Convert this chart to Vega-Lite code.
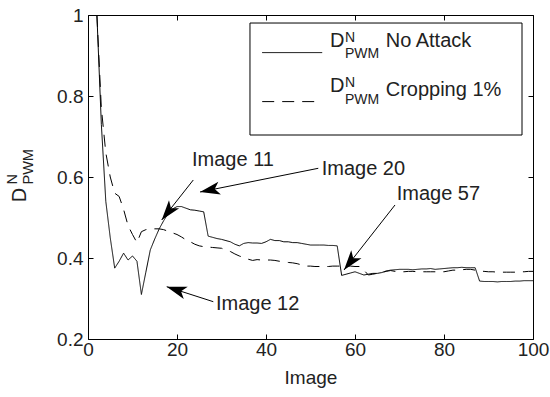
{
  "$schema": "https://vega.github.io/schema/vega-lite/v6.json",
  "width": 445,
  "height": 324,
  "autosize": {"type": "none"},
  "padding": {"left": 88, "top": 15, "right": 17, "bottom": 58},
  "background": "white",
  "config": {
    "view": {"stroke": "black", "strokeWidth": 1},
    "font": "Liberation Sans",
    "text": {"font": "Liberation Sans", "color": "#222"},
    "axis": {
      "domainColor": "black",
      "tickColor": "black",
      "labelColor": "#222",
      "titleColor": "#222",
      "grid": false,
      "labelFont": "Liberation Sans",
      "titleFont": "Liberation Sans",
      "labelFontSize": 19,
      "titleFontSize": 19,
      "titleFontWeight": "normal",
      "tickSize": -5,
      "tickWidth": 1
    }
  },
  "datasets": {
    "series": [
      {"image": 2, "value": 1.0, "series": "No Attack"},
      {"image": 3, "value": 0.73, "series": "No Attack"},
      {"image": 4, "value": 0.54, "series": "No Attack"},
      {"image": 5, "value": 0.45, "series": "No Attack"},
      {"image": 6, "value": 0.375, "series": "No Attack"},
      {"image": 7, "value": 0.392, "series": "No Attack"},
      {"image": 8, "value": 0.412, "series": "No Attack"},
      {"image": 9, "value": 0.395, "series": "No Attack"},
      {"image": 10, "value": 0.405, "series": "No Attack"},
      {"image": 11, "value": 0.392, "series": "No Attack"},
      {"image": 12, "value": 0.31, "series": "No Attack"},
      {"image": 13, "value": 0.365, "series": "No Attack"},
      {"image": 14, "value": 0.42, "series": "No Attack"},
      {"image": 15, "value": 0.447, "series": "No Attack"},
      {"image": 16, "value": 0.472, "series": "No Attack"},
      {"image": 17, "value": 0.492, "series": "No Attack"},
      {"image": 18, "value": 0.51, "series": "No Attack"},
      {"image": 19, "value": 0.521, "series": "No Attack"},
      {"image": 20, "value": 0.527, "series": "No Attack"},
      {"image": 21, "value": 0.527, "series": "No Attack"},
      {"image": 22, "value": 0.523, "series": "No Attack"},
      {"image": 23, "value": 0.519, "series": "No Attack"},
      {"image": 24, "value": 0.518, "series": "No Attack"},
      {"image": 25, "value": 0.516, "series": "No Attack"},
      {"image": 26, "value": 0.514, "series": "No Attack"},
      {"image": 27, "value": 0.454, "series": "No Attack"},
      {"image": 28, "value": 0.451, "series": "No Attack"},
      {"image": 29, "value": 0.448, "series": "No Attack"},
      {"image": 30, "value": 0.446, "series": "No Attack"},
      {"image": 31, "value": 0.443, "series": "No Attack"},
      {"image": 32, "value": 0.44, "series": "No Attack"},
      {"image": 33, "value": 0.434, "series": "No Attack"},
      {"image": 34, "value": 0.43, "series": "No Attack"},
      {"image": 35, "value": 0.436, "series": "No Attack"},
      {"image": 36, "value": 0.438, "series": "No Attack"},
      {"image": 37, "value": 0.437, "series": "No Attack"},
      {"image": 38, "value": 0.437, "series": "No Attack"},
      {"image": 39, "value": 0.436, "series": "No Attack"},
      {"image": 40, "value": 0.44, "series": "No Attack"},
      {"image": 41, "value": 0.446, "series": "No Attack"},
      {"image": 42, "value": 0.443, "series": "No Attack"},
      {"image": 43, "value": 0.443, "series": "No Attack"},
      {"image": 44, "value": 0.44, "series": "No Attack"},
      {"image": 45, "value": 0.44, "series": "No Attack"},
      {"image": 46, "value": 0.438, "series": "No Attack"},
      {"image": 47, "value": 0.438, "series": "No Attack"},
      {"image": 48, "value": 0.436, "series": "No Attack"},
      {"image": 49, "value": 0.434, "series": "No Attack"},
      {"image": 50, "value": 0.432, "series": "No Attack"},
      {"image": 51, "value": 0.432, "series": "No Attack"},
      {"image": 52, "value": 0.432, "series": "No Attack"},
      {"image": 53, "value": 0.432, "series": "No Attack"},
      {"image": 54, "value": 0.431, "series": "No Attack"},
      {"image": 55, "value": 0.431, "series": "No Attack"},
      {"image": 56, "value": 0.43, "series": "No Attack"},
      {"image": 57, "value": 0.357, "series": "No Attack"},
      {"image": 58, "value": 0.36, "series": "No Attack"},
      {"image": 59, "value": 0.363, "series": "No Attack"},
      {"image": 60, "value": 0.366, "series": "No Attack"},
      {"image": 61, "value": 0.362, "series": "No Attack"},
      {"image": 62, "value": 0.358, "series": "No Attack"},
      {"image": 63, "value": 0.36, "series": "No Attack"},
      {"image": 64, "value": 0.362, "series": "No Attack"},
      {"image": 65, "value": 0.362, "series": "No Attack"},
      {"image": 66, "value": 0.364, "series": "No Attack"},
      {"image": 67, "value": 0.368, "series": "No Attack"},
      {"image": 68, "value": 0.37, "series": "No Attack"},
      {"image": 69, "value": 0.371, "series": "No Attack"},
      {"image": 70, "value": 0.372, "series": "No Attack"},
      {"image": 71, "value": 0.372, "series": "No Attack"},
      {"image": 72, "value": 0.372, "series": "No Attack"},
      {"image": 73, "value": 0.371, "series": "No Attack"},
      {"image": 74, "value": 0.372, "series": "No Attack"},
      {"image": 75, "value": 0.373, "series": "No Attack"},
      {"image": 76, "value": 0.373, "series": "No Attack"},
      {"image": 77, "value": 0.374, "series": "No Attack"},
      {"image": 78, "value": 0.372, "series": "No Attack"},
      {"image": 79, "value": 0.373, "series": "No Attack"},
      {"image": 80, "value": 0.374, "series": "No Attack"},
      {"image": 81, "value": 0.375, "series": "No Attack"},
      {"image": 82, "value": 0.376, "series": "No Attack"},
      {"image": 83, "value": 0.376, "series": "No Attack"},
      {"image": 84, "value": 0.377, "series": "No Attack"},
      {"image": 85, "value": 0.376, "series": "No Attack"},
      {"image": 86, "value": 0.376, "series": "No Attack"},
      {"image": 87, "value": 0.376, "series": "No Attack"},
      {"image": 88, "value": 0.343, "series": "No Attack"},
      {"image": 89, "value": 0.342, "series": "No Attack"},
      {"image": 90, "value": 0.342, "series": "No Attack"},
      {"image": 91, "value": 0.342, "series": "No Attack"},
      {"image": 92, "value": 0.341, "series": "No Attack"},
      {"image": 93, "value": 0.342, "series": "No Attack"},
      {"image": 94, "value": 0.342, "series": "No Attack"},
      {"image": 95, "value": 0.342, "series": "No Attack"},
      {"image": 96, "value": 0.343, "series": "No Attack"},
      {"image": 97, "value": 0.343, "series": "No Attack"},
      {"image": 98, "value": 0.344, "series": "No Attack"},
      {"image": 99, "value": 0.344, "series": "No Attack"},
      {"image": 100, "value": 0.344, "series": "No Attack"},
      {"image": 2, "value": 1.0, "series": "Cropping 1%"},
      {"image": 3, "value": 0.77, "series": "Cropping 1%"},
      {"image": 4, "value": 0.66, "series": "Cropping 1%"},
      {"image": 5, "value": 0.6, "series": "Cropping 1%"},
      {"image": 6, "value": 0.56, "series": "Cropping 1%"},
      {"image": 7, "value": 0.552, "series": "Cropping 1%"},
      {"image": 8, "value": 0.52, "series": "Cropping 1%"},
      {"image": 9, "value": 0.48, "series": "Cropping 1%"},
      {"image": 10, "value": 0.458, "series": "Cropping 1%"},
      {"image": 11, "value": 0.438, "series": "Cropping 1%"},
      {"image": 12, "value": 0.465, "series": "Cropping 1%"},
      {"image": 13, "value": 0.47, "series": "Cropping 1%"},
      {"image": 14, "value": 0.472, "series": "Cropping 1%"},
      {"image": 15, "value": 0.472, "series": "Cropping 1%"},
      {"image": 16, "value": 0.472, "series": "Cropping 1%"},
      {"image": 17, "value": 0.47, "series": "Cropping 1%"},
      {"image": 18, "value": 0.466, "series": "Cropping 1%"},
      {"image": 19, "value": 0.462, "series": "Cropping 1%"},
      {"image": 20, "value": 0.458, "series": "Cropping 1%"},
      {"image": 21, "value": 0.452, "series": "Cropping 1%"},
      {"image": 22, "value": 0.445, "series": "Cropping 1%"},
      {"image": 23, "value": 0.44, "series": "Cropping 1%"},
      {"image": 24, "value": 0.434, "series": "Cropping 1%"},
      {"image": 25, "value": 0.43, "series": "Cropping 1%"},
      {"image": 26, "value": 0.428, "series": "Cropping 1%"},
      {"image": 27, "value": 0.427, "series": "Cropping 1%"},
      {"image": 28, "value": 0.426, "series": "Cropping 1%"},
      {"image": 29, "value": 0.425, "series": "Cropping 1%"},
      {"image": 30, "value": 0.424, "series": "Cropping 1%"},
      {"image": 31, "value": 0.42, "series": "Cropping 1%"},
      {"image": 32, "value": 0.416, "series": "Cropping 1%"},
      {"image": 33, "value": 0.41, "series": "Cropping 1%"},
      {"image": 34, "value": 0.405, "series": "Cropping 1%"},
      {"image": 35, "value": 0.401, "series": "Cropping 1%"},
      {"image": 36, "value": 0.397, "series": "Cropping 1%"},
      {"image": 37, "value": 0.394, "series": "Cropping 1%"},
      {"image": 38, "value": 0.396, "series": "Cropping 1%"},
      {"image": 39, "value": 0.395, "series": "Cropping 1%"},
      {"image": 40, "value": 0.395, "series": "Cropping 1%"},
      {"image": 41, "value": 0.395, "series": "Cropping 1%"},
      {"image": 42, "value": 0.394, "series": "Cropping 1%"},
      {"image": 43, "value": 0.392, "series": "Cropping 1%"},
      {"image": 44, "value": 0.391, "series": "Cropping 1%"},
      {"image": 45, "value": 0.389, "series": "Cropping 1%"},
      {"image": 46, "value": 0.388, "series": "Cropping 1%"},
      {"image": 47, "value": 0.386, "series": "Cropping 1%"},
      {"image": 48, "value": 0.383, "series": "Cropping 1%"},
      {"image": 49, "value": 0.38, "series": "Cropping 1%"},
      {"image": 50, "value": 0.38, "series": "Cropping 1%"},
      {"image": 51, "value": 0.379, "series": "Cropping 1%"},
      {"image": 52, "value": 0.379, "series": "Cropping 1%"},
      {"image": 53, "value": 0.379, "series": "Cropping 1%"},
      {"image": 54, "value": 0.379, "series": "Cropping 1%"},
      {"image": 55, "value": 0.38, "series": "Cropping 1%"},
      {"image": 56, "value": 0.38, "series": "Cropping 1%"},
      {"image": 57, "value": 0.38, "series": "Cropping 1%"},
      {"image": 58, "value": 0.38, "series": "Cropping 1%"},
      {"image": 59, "value": 0.38, "series": "Cropping 1%"},
      {"image": 60, "value": 0.379, "series": "Cropping 1%"},
      {"image": 61, "value": 0.379, "series": "Cropping 1%"},
      {"image": 62, "value": 0.37, "series": "Cropping 1%"},
      {"image": 63, "value": 0.358, "series": "Cropping 1%"},
      {"image": 64, "value": 0.36, "series": "Cropping 1%"},
      {"image": 65, "value": 0.362, "series": "Cropping 1%"},
      {"image": 66, "value": 0.364, "series": "Cropping 1%"},
      {"image": 67, "value": 0.367, "series": "Cropping 1%"},
      {"image": 68, "value": 0.369, "series": "Cropping 1%"},
      {"image": 69, "value": 0.367, "series": "Cropping 1%"},
      {"image": 70, "value": 0.366, "series": "Cropping 1%"},
      {"image": 71, "value": 0.366, "series": "Cropping 1%"},
      {"image": 72, "value": 0.367, "series": "Cropping 1%"},
      {"image": 73, "value": 0.367, "series": "Cropping 1%"},
      {"image": 74, "value": 0.366, "series": "Cropping 1%"},
      {"image": 75, "value": 0.366, "series": "Cropping 1%"},
      {"image": 76, "value": 0.366, "series": "Cropping 1%"},
      {"image": 77, "value": 0.366, "series": "Cropping 1%"},
      {"image": 78, "value": 0.366, "series": "Cropping 1%"},
      {"image": 79, "value": 0.366, "series": "Cropping 1%"},
      {"image": 80, "value": 0.366, "series": "Cropping 1%"},
      {"image": 81, "value": 0.368, "series": "Cropping 1%"},
      {"image": 82, "value": 0.37, "series": "Cropping 1%"},
      {"image": 83, "value": 0.37, "series": "Cropping 1%"},
      {"image": 84, "value": 0.371, "series": "Cropping 1%"},
      {"image": 85, "value": 0.372, "series": "Cropping 1%"},
      {"image": 86, "value": 0.372, "series": "Cropping 1%"},
      {"image": 87, "value": 0.37, "series": "Cropping 1%"},
      {"image": 88, "value": 0.368, "series": "Cropping 1%"},
      {"image": 89, "value": 0.367, "series": "Cropping 1%"},
      {"image": 90, "value": 0.366, "series": "Cropping 1%"},
      {"image": 91, "value": 0.366, "series": "Cropping 1%"},
      {"image": 92, "value": 0.365, "series": "Cropping 1%"},
      {"image": 93, "value": 0.365, "series": "Cropping 1%"},
      {"image": 94, "value": 0.365, "series": "Cropping 1%"},
      {"image": 95, "value": 0.365, "series": "Cropping 1%"},
      {"image": 96, "value": 0.365, "series": "Cropping 1%"},
      {"image": 97, "value": 0.366, "series": "Cropping 1%"},
      {"image": 98, "value": 0.366, "series": "Cropping 1%"},
      {"image": 99, "value": 0.367, "series": "Cropping 1%"},
      {"image": 100, "value": 0.367, "series": "Cropping 1%"}
    ],
    "arrows": [
      {"label": "Image 11", "x": 23.66, "y": 0.5926, "tipX": 16.56, "tipY": 0.4938},
      {"label": "Image 20", "x": 51.75, "y": 0.6215, "tipX": 25.17, "tipY": 0.563},
      {"label": "Image 57", "x": 68.99, "y": 0.5309, "tipX": 57.53, "tipY": 0.3704},
      {"label": "Image 12", "x": 28.16, "y": 0.2921, "tipX": 17.69, "tipY": 0.3291}
    ],
    "notes": [
      {"label": "Image 11", "x": 23.37, "y": 0.6272},
      {"label": "Image 20", "x": 52.52, "y": 0.6049},
      {"label": "Image 57", "x": 69.37, "y": 0.5432},
      {"label": "Image 12", "x": 28.76, "y": 0.2716}
    ],
    "legendBox": [{"x": 36.4, "x2": 97.53, "y": 0.7037, "y2": 0.9802}],
    "symbolText": [
      {"part": "base", "text": "D", "x": 54.38, "y": 0.9217},
      {"part": "sup", "text": "N", "x": 57.75, "y": 0.9326},
      {"part": "sub", "text": "PWM", "x": 57.75, "y": 0.8931},
      {"part": "base", "text": "D", "x": 54.38, "y": 0.8106},
      {"part": "sup", "text": "N", "x": 57.75, "y": 0.8215},
      {"part": "sub", "text": "PWM", "x": 57.75, "y": 0.7802}
    ],
    "yTitle": [
      {"part": "sup", "text": "N", "x": -16.02, "y": 0.5815},
      {"part": "sub", "text": "PWM", "x": -12.29, "y": 0.5815}
    ]
  },
  "resolve": {"axis": {"x": "independent", "y": "independent"}},
  "layer": [
    {
      "data": {"name": "series"},
      "mark": {"type": "line", "color": "black", "strokeWidth": 1, "clip": true},
      "encoding": {
        "x": {
          "field": "image", "type": "quantitative",
          "scale": {"domain": [0, 100], "nice": false, "zero": false},
          "axis": {"title": "Image", "values": [0, 20, 40, 60, 80, 100], "labelPadding": 6, "titlePadding": 9, "domain": false, "labelFlush": false}
        },
        "y": {
          "field": "value", "type": "quantitative",
          "scale": {"domain": [0.2, 1], "nice": false, "zero": false},
          "axis": {
            "title": "D", "values": [0.2, 0.4, 0.6, 0.8, 1], "format": ".1~f",
            "labelPadding": 10, "domain": false, "labelFlush": false,
            "titleAngle": 270, "titleAlign": "left", "titleBaseline": "alphabetic",
            "titleX": -63, "titleY": 186.7, "titleFontSize": 20
          }
        },
        "strokeDash": {
          "field": "series", "type": "nominal",
          "scale": {"domain": ["No Attack", "Cropping 1%"], "range": [[1, 0], [12, 8]]},
          "legend": {
            "orient": "none", "legendX": 191.7, "legendY": 13.1, "title": null,
            "padding": 0, "symbolType": "M-2.5,1.0H2.5", "symbolSize": 576,
            "symbolStrokeWidth": 1, "symbolStrokeColor": "black", "symbolFillColor": "transparent",
            "labelOffset": 81, "labelFontSize": 20, "labelColor": "#222", "labelFont": "Liberation Sans",
            "rowPadding": 22, "labelLimit": 300
          }
        }
      }
    },
    {
      "data": {"name": "series"},
      "mark": {"type": "point", "opacity": 0},
      "encoding": {
        "x": {
          "field": "image", "type": "quantitative",
          "scale": {"domain": [0, 100], "nice": false, "zero": false},
          "axis": {"orient": "top", "values": [0, 20, 40, 60, 80, 100], "labels": false, "title": null, "domain": false}
        },
        "y": {
          "field": "value", "type": "quantitative",
          "scale": {"domain": [0.2, 1], "nice": false, "zero": false},
          "axis": {"orient": "right", "values": [0.2, 0.4, 0.6, 0.8, 1], "labels": false, "title": null, "domain": false}
        }
      }
    },
    {
      "data": {"name": "legendBox"},
      "mark": {"type": "rect", "fill": "white", "stroke": "black", "strokeWidth": 1},
      "encoding": {
        "x": {"field": "x", "type": "quantitative", "scale": {"domain": [0, 100]}, "axis": null},
        "x2": {"field": "x2"},
        "y": {"field": "y", "type": "quantitative", "scale": {"domain": [0.2, 1]}, "axis": null},
        "y2": {"field": "y2"}
      }
    },
    {
      "data": {"name": "arrows"},
      "mark": {"type": "rule", "color": "black", "strokeWidth": 1},
      "encoding": {
        "x": {"field": "x", "type": "quantitative", "scale": {"domain": [0, 100]}, "axis": null},
        "y": {"field": "y", "type": "quantitative", "scale": {"domain": [0.2, 1]}, "axis": null},
        "x2": {"field": "tipX"},
        "y2": {"field": "tipY"}
      }
    },
    {
      "data": {"name": "arrows"},
      "transform": [{"filter": "datum.label === 'Image 11'"}],
      "mark": {"type": "point", "shape": "M0,0L0.65,2L0,1.5L-0.65,2Z", "size": 400, "filled": true, "color": "black", "opacity": 1, "angle": 218.3},
      "encoding": {
        "x": {"field": "tipX", "type": "quantitative", "scale": {"domain": [0, 100]}, "axis": null},
        "y": {"field": "tipY", "type": "quantitative", "scale": {"domain": [0.2, 1]}, "axis": null}
      }
    },
    {
      "data": {"name": "arrows"},
      "transform": [{"filter": "datum.label === 'Image 20'"}],
      "mark": {"type": "point", "shape": "M0,0L0.65,2L0,1.5L-0.65,2Z", "size": 400, "filled": true, "color": "black", "opacity": 1, "angle": 258.7},
      "encoding": {
        "x": {"field": "tipX", "type": "quantitative", "scale": {"domain": [0, 100]}, "axis": null},
        "y": {"field": "tipY", "type": "quantitative", "scale": {"domain": [0.2, 1]}, "axis": null}
      }
    },
    {
      "data": {"name": "arrows"},
      "transform": [{"filter": "datum.label === 'Image 57'"}],
      "mark": {"type": "point", "shape": "M0,0L0.65,2L0,1.5L-0.65,2Z", "size": 400, "filled": true, "color": "black", "opacity": 1, "angle": 218.1},
      "encoding": {
        "x": {"field": "tipX", "type": "quantitative", "scale": {"domain": [0, 100]}, "axis": null},
        "y": {"field": "tipY", "type": "quantitative", "scale": {"domain": [0.2, 1]}, "axis": null}
      }
    },
    {
      "data": {"name": "arrows"},
      "transform": [{"filter": "datum.label === 'Image 12'"}],
      "mark": {"type": "point", "shape": "M0,0L0.65,2L0,1.5L-0.65,2Z", "size": 400, "filled": true, "color": "black", "opacity": 1, "angle": 287.8},
      "encoding": {
        "x": {"field": "tipX", "type": "quantitative", "scale": {"domain": [0, 100]}, "axis": null},
        "y": {"field": "tipY", "type": "quantitative", "scale": {"domain": [0.2, 1]}, "axis": null}
      }
    },
    {
      "data": {"name": "notes"},
      "mark": {"type": "text", "align": "left", "baseline": "alphabetic", "fontSize": 20, "color": "#222"},
      "encoding": {
        "x": {"field": "x", "type": "quantitative", "scale": {"domain": [0, 100]}, "axis": null},
        "y": {"field": "y", "type": "quantitative", "scale": {"domain": [0.2, 1]}, "axis": null},
        "text": {"field": "label"}
      }
    },
    {
      "data": {"name": "symbolText"},
      "transform": [{"filter": "datum.part === 'base'"}],
      "mark": {"type": "text", "align": "left", "baseline": "alphabetic", "fontSize": 20, "color": "#222"},
      "encoding": {
        "x": {"field": "x", "type": "quantitative", "scale": {"domain": [0, 100]}, "axis": null},
        "y": {"field": "y", "type": "quantitative", "scale": {"domain": [0.2, 1]}, "axis": null},
        "text": {"field": "text"}
      }
    },
    {
      "data": {"name": "symbolText"},
      "transform": [{"filter": "datum.part !== 'base'"}],
      "mark": {"type": "text", "align": "left", "baseline": "alphabetic", "fontSize": 14, "color": "#222"},
      "encoding": {
        "x": {"field": "x", "type": "quantitative", "scale": {"domain": [0, 100]}, "axis": null},
        "y": {"field": "y", "type": "quantitative", "scale": {"domain": [0.2, 1]}, "axis": null},
        "text": {"field": "text"}
      }
    },
    {
      "data": {"name": "yTitle"},
      "mark": {"type": "text", "align": "left", "baseline": "alphabetic", "fontSize": 14.5, "angle": 270, "color": "#222"},
      "encoding": {
        "x": {"field": "x", "type": "quantitative", "scale": {"domain": [0, 100]}, "axis": null},
        "y": {"field": "y", "type": "quantitative", "scale": {"domain": [0.2, 1]}, "axis": null},
        "text": {"field": "text"}
      }
    }
  ]
}
